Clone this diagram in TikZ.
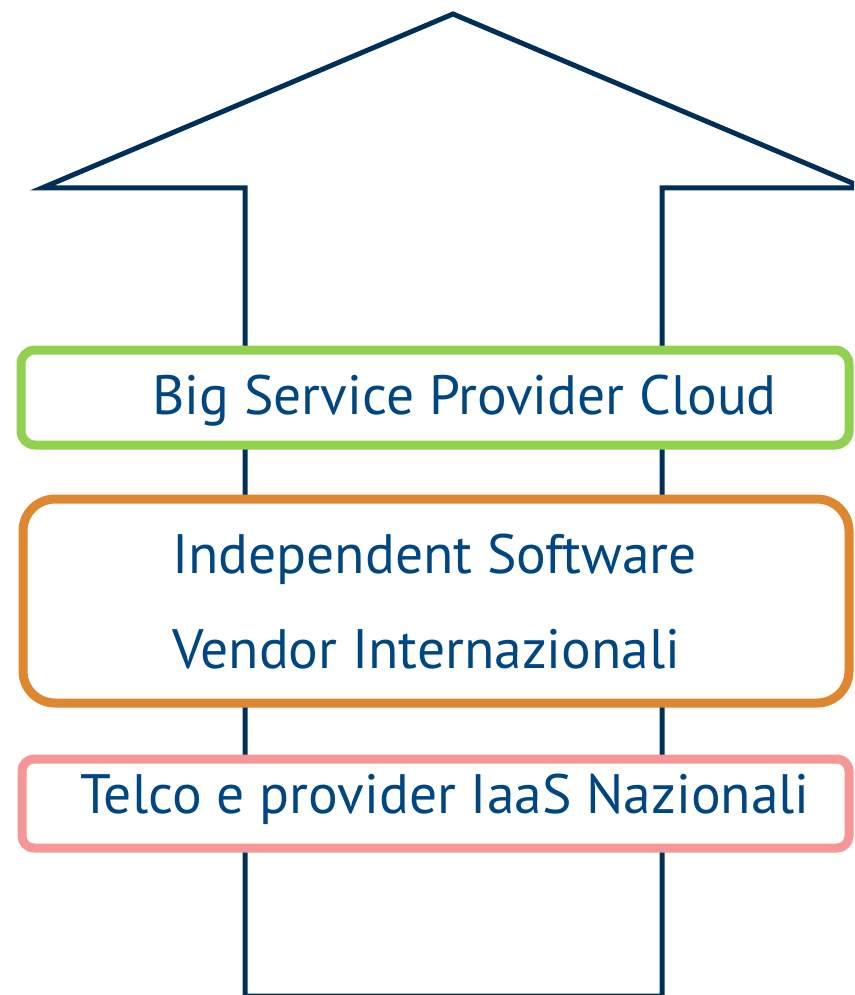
\documentclass[tikz,border=0pt]{standalone}
\usepackage{fontspec}
\setmainfont{PT Sans}
\usetikzlibrary{calc}
\definecolor{navy}{HTML}{00305A}
\definecolor{textblue}{HTML}{004682}
\definecolor{cloudgreen}{HTML}{92D050}
\definecolor{isvorange}{HTML}{DE8630}
\definecolor{telcopink}{HTML}{F79696}
\tikzset{
  layer/.style={line width=9pt, rounded corners=#1},
  label/.style={anchor=base west, inner sep=0pt, text=textblue, font=\fontsize{55.5}{60}\selectfont}
}

\begin{document}
\begin{tikzpicture}[x=1pt,y=-1pt]
\useasboundingbox (0,0) rectangle (854,995);
\clip (0,0) rectangle (854,995);
% big arrow
\draw[navy, line width=5pt, line join=miter] (245,996) -- (245,188) -- (42,188) -- (453,14) -- (864,188) -- (662,188) -- (662,996) -- cycle;
% layers
\draw[cloudgreen, layer=14, fill=white] (21,350) rectangle (849,445);
\draw[isvorange, layer=32, fill=white] (23,499) rectangle (849,703);
\draw[telcopink, layer=12, fill=white] (22,759) rectangle (849,848);
\node[label] (big) at (152,414) {Big Service Provider Cloud};
\node[label] (isv1) at (172,573) {Independent Software};
\node[label] (isv2) at (172,668) {Vendor Internazionali};
\node[label] (telco) at (80,813) {Telco e provider IaaS Nazionali};
\end{tikzpicture}
\end{document}
